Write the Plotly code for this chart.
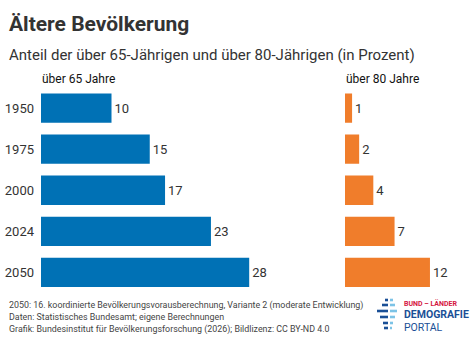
import plotly.graph_objects as go

years = ["1950", "1975", "2000", "2024", "2050"]
over65 = [10, 15, 17, 23, 28]
over80 = [1, 2, 4, 7, 12]

title = "Ältere Bevölkerung"
subtitle = "Anteil der über 65-Jährigen und über 80-Jährigen (in Prozent)"
label65 = "über 65 Jahre"
label80 = "über 80 Jahre"
footer = [
    "2050: 16. koordinierte Bevölkerungsvorausberechnung, Variante 2 (moderate Entwicklung)",
    "Daten: Statistisches Bundesamt; eigene Berechnungen",
    "Grafik: Bundesinstitut für Bevölkerungsforschung (2026); Bildlizenz: CC BY-ND 4.0",
]

W, H = 474, 338
FONT = "Roboto"
TXT = "#333333"
BLUE = "#0071b5"
ORANGE = "#f07d2b"

def px(x):
    return x / W

def py(y):
    return 1 - y / H

# axis geometry (pixels)
s1, z1 = 7.65, 35.0
d1 = (41.0, 300.0)
s2, z2 = 7.08, 345.0
d2 = (345.0, 470.0)

fig = go.Figure()
fig.add_trace(go.Bar(
    y=years, x=over65, orientation="h", marker=dict(color=BLUE, line=dict(width=0)),
    text=[str(v) for v in over65], textposition="outside",
    textfont=dict(family=FONT, size=13, color=TXT), cliponaxis=False,
    xaxis="x", yaxis="y", hoverinfo="skip",
))
fig.add_trace(go.Bar(
    y=years, x=over80, orientation="h", marker=dict(color=ORANGE, line=dict(width=0)),
    text=[str(v) for v in over80], textposition="outside",
    textfont=dict(family=FONT, size=13, color=TXT), cliponaxis=False,
    xaxis="x2", yaxis="y", hoverinfo="skip",
))

annotations = [
    dict(text="<b>" + title + "</b>", x=px(7), y=py(38), xanchor="left", yanchor="bottom",
         font=dict(family=FONT, size=21, color=TXT)),
    dict(text=subtitle, x=px(7), y=py(66), xanchor="left", yanchor="bottom",
         font=dict(family=FONT, size=15, color=TXT)),
    dict(text=label65, x=px(40), y=py(88), xanchor="left", yanchor="bottom",
         font=dict(family=FONT, size=12, color="#111111")),
    dict(text=label80, x=px(344), y=py(88), xanchor="left", yanchor="bottom",
         font=dict(family=FONT, size=12, color="#111111")),
]
for i, line in enumerate(footer):
    annotations.append(dict(text=line, x=px(7), y=py(305 + 12 * i), xanchor="left", yanchor="middle",
                            font=dict(family=FONT, size=8.9, color="#444444")))
annotations += [
    dict(text="<b>BUND – LÄNDER</b>", x=px(402), y=py(303.5), xanchor="left", yanchor="middle",
         font=dict(family=FONT, size=7, color="#d5173f")),
    dict(text="<b>DEMOGRAFIE</b>", x=px(402), y=py(314.5), xanchor="left", yanchor="middle",
         font=dict(family=FONT, size=10.5, color="#1a4f96")),
    dict(text="PORTAL", x=px(402), y=py(327), xanchor="left", yanchor="middle",
         font=dict(family=FONT, size=10.5, color="#1a4f96")),
]
for a in annotations:
    a.update(xref="paper", yref="paper", showarrow=False)

# logo icon: dashes
shapes = []
rows = [(300, 385, 388, 390, 393), (305, 382, 388, 390, 395), (311, 377, 388, 390, 397),
        (317, 380, 388, 390, 395), (323, 383, 388, 390, 393), (328, 384, 388, 390, 392)]
for (y, a0, a1, b0, b1) in rows:
    shapes.append(dict(type="rect", xref="paper", yref="paper", x0=px(a0), x1=px(a1),
                       y0=py(y + 1.3), y1=py(y - 1.3), fillcolor="#1a4f96", line=dict(width=0)))
    shapes.append(dict(type="rect", xref="paper", yref="paper", x0=px(b0), x1=px(b1),
                       y0=py(y + 1.3), y1=py(y - 1.3), fillcolor="#7cc3e6", line=dict(width=0)))

fig.update_layout(
    width=W, height=H, margin=dict(l=0, r=0, t=0, b=0),
    paper_bgcolor="white", plot_bgcolor="white", showlegend=False,
    bargap=0.287,
    font=dict(family=FONT, color=TXT),
    xaxis=dict(domain=[px(d1[0]), px(d1[1])], range=[(d1[0] - z1) / s1, (d1[1] - z1) / s1],
               visible=False, fixedrange=True),
    xaxis2=dict(domain=[px(d2[0]), px(d2[1])], range=[(d2[0] - z2) / s2, (d2[1] - z2) / s2],
                visible=False, fixedrange=True, anchor="y"),
    yaxis=dict(domain=[py(293), py(87.5)], categoryorder="array", categoryarray=years,
               autorange="reversed", showgrid=False, zeroline=False, showline=False,
               ticks="", ticklabelstandoff=6, tickfont=dict(family=FONT, size=13, color=TXT),
               fixedrange=True),
    annotations=annotations, shapes=shapes,
)

fig.write_html("out.html", config={"displayModeBar": False})
